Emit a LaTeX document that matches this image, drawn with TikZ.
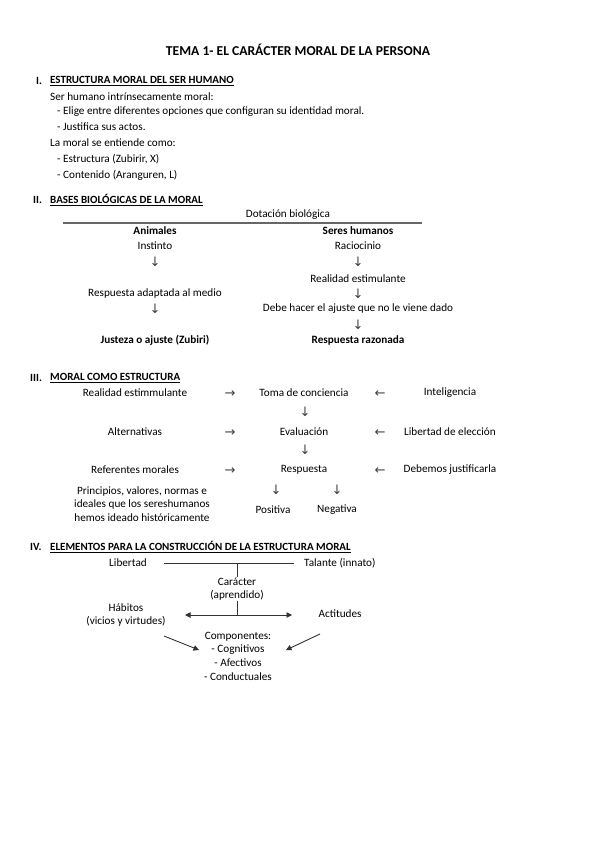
\documentclass[tikz,border=0pt]{standalone}
\usepackage{fontspec}
\setmainfont{Carlito}
\newfontfamily\arrowfont{DejaVu Sans}
\usetikzlibrary{arrows.meta}
\begin{document}
\begin{tikzpicture}[x=1pt,y=-1pt,
  txt/.style={inner sep=0pt, font=\fontsize{11.2}{13.6}\selectfont},
  btxt/.style={inner sep=0pt, font=\fontsize{11.2}{13.6}\selectfont\bfseries},
  lft/.style={txt, anchor=west},
  head/.style={inner sep=0pt, anchor=west, font=\fontsize{11}{13}\selectfont\bfseries},
  arr/.style={inner sep=0pt, text=black!75, font=\fontsize{13}{14}\selectfont\arrowfont},
  harr/.style={arr, yshift=-1.5pt},
  ttl/.style={inner sep=0pt, font=\fontsize{13.6}{15}\selectfont\bfseries},
  ln/.style={line width=0.9pt, draw=black!80},
  tip/.style={line width=0.9pt, draw=black!80, -{Triangle[length=5.5pt,width=5.5pt]}},
  dtip/.style={line width=0.9pt, draw=black!80, {Triangle[length=5.5pt,width=5.5pt]}-{Triangle[length=5.5pt,width=5.5pt]}}
]
\useasboundingbox (0,0) rectangle (599,848);
\fill[white] (0,0) rectangle (599,848);

% Title
\node[ttl] (title) at (298,50) {TEMA 1- EL CARÁCTER MORAL DE LA PERSONA};

% Section I
\node[head] (n1) at (36,81) {I.};
\node[head] (h1) at (50,81) {\underline{ESTRUCTURA MORAL DEL SER HUMANO}};
\node[lft] (s1a) at (50,97) {Ser humano intrínsecamente moral:};
\node[lft] (s1b) at (57,112) {- Elige entre diferentes opciones que configuran su identidad moral.};
\node[lft] (s1c) at (57,127) {- Justifica sus actos.};
\node[lft] (s1d) at (50,143) {La moral se entiende como:};
\node[lft] (s1e) at (57,159) {- Estructura (Zubirir, X)};
\node[lft] (s1f) at (57,175) {- Contenido (Aranguren, L)};

% Section II
\node[head] (n2) at (33,200) {II.};
\node[head] (h2) at (50,200) {\underline{BASES BIOLÓGICAS DE LA MORAL}};
\node[txt] (dot) at (288,215) {Dotación biológica};
\coordinate (rl) at (63,223);
\coordinate (rr) at (422,223);
\draw[line width=1.1pt, draw=black!60] (rl) -- (rr);
\node[btxt] (anim) at (155,231) {Animales};
\node[btxt] (hum) at (358,231) {Seres humanos};
\node[txt] (inst) at (155,246) {Instinto};
\node[txt] (rac) at (358,246) {Raciocinio};
\node[arr] (a1) at (155,262) {↓};
\node[arr] (b1) at (358,262) {↓};
\node[txt] (rest) at (358,279) {Realidad estimulante};
\node[txt] (resp) at (155,294) {Respuesta adaptada al medio};
\node[arr] (b2) at (358,294) {↓};
\node[arr] (a2) at (155,309) {↓};
\node[txt] (debe) at (358,309) {Debe hacer el ajuste que no le viene dado};
\node[arr] (b3) at (358,325) {↓};
\node[btxt] (just) at (155,340) {Justeza o ajuste (Zubiri)};
\node[btxt] (razo) at (358,340) {Respuesta razonada};

% Section III
\node[head] (n3) at (30,378) {III.};
\node[head] (h3) at (50,378) {\underline{MORAL COMO ESTRUCTURA}};
\node[txt] (r1a) at (135,393) {Realidad estimmulante};
\node[harr] (r1b) at (230,393) {→};
\node[txt] (r1c) at (304,393) {Toma de conciencia};
\node[harr] (r1d) at (380,393) {←};
\node[txt] (r1e) at (450,393) {Inteligencia};
\node[arr] (d1) at (305,412) {↓};
\node[txt] (r2a) at (135,432) {Alternativas};
\node[harr] (r2b) at (230,432) {→};
\node[txt] (r2c) at (304,432) {Evaluación};
\node[harr] (r2d) at (380,432) {←};
\node[txt] (r2e) at (450,432) {Libertad de elección};
\node[arr] (d2) at (305,450) {↓};
\node[txt] (r3a) at (135,470) {Referentes morales};
\node[harr] (r3b) at (230,470) {→};
\node[txt] (r3c) at (304,470) {Respuesta};
\node[harr] (r3d) at (380,470) {←};
\node[txt] (r3e) at (450,470) {Debemos justificarla};
\node[txt, align=center] (prin) at (142,504) {Principios, valores, normas e\\ideales que los sereshumanos\\hemos ideado históricamente};
\node[arr] (d3) at (276,490) {↓};
\node[arr] (d4) at (337,490) {↓};
\node[txt] (pos) at (273,510) {Positiva};
\node[txt] (neg) at (337,510) {Negativa};

% Section IV
\node[head] (n4) at (30,547) {IV.};
\node[head] (h4) at (50,547) {\underline{ELEMENTOS PARA LA CONSTRUCCIÓN DE LA ESTRUCTURA MORAL}};
\node[txt] (lib) at (128,563) {Libertad};
\node[txt, anchor=west] (tal) at (304,563) {Talante (innato)};
\coordinate (l1) at (164,563);
\coordinate (l2) at (294,563);
\coordinate (lm) at (237,563);
\draw[ln] (l1) -- (l2);
\node[txt, align=center] (car) at (237,589) {Carácter\\(aprendido)};
\draw[ln] (lm) -- (car.north);
\coordinate (hm) at (237,615);
\coordinate (hl) at (185,615);
\coordinate (hr) at (292,615);
\draw[ln] (car.south) -- (hm);
\draw[dtip] (hl) -- (hr);
\node[txt, align=center] (hab) at (126,615) {Hábitos\\(vicios y virtudes)};
\node[txt] (act) at (340,614) {Actitudes};
\node[txt, align=center] (comp) at (238,656) {Componentes:\\- Cognitivos\\- Afectivos\\- Conductuales};
\coordinate (ha) at (164,636);
\coordinate (hb) at (199,650);
\coordinate (aa) at (320,634);
\coordinate (ab) at (286,650);
\draw[tip] (ha) -- (hb);
\draw[tip] (aa) -- (ab);
\end{tikzpicture}
\end{document}
